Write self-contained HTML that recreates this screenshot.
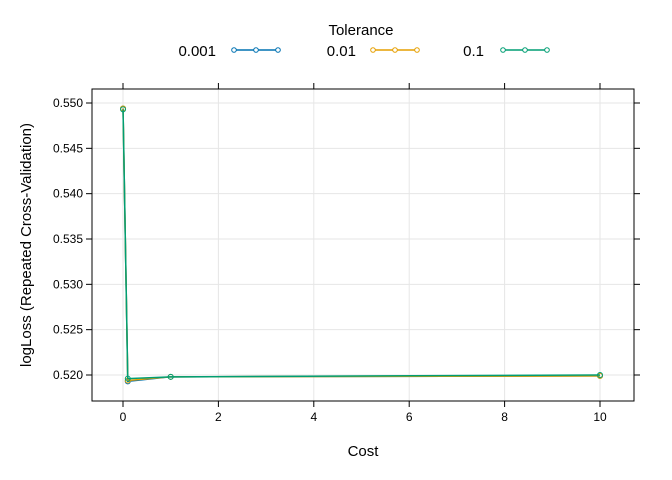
<!DOCTYPE html>
<html><head><meta charset="utf-8"><style>body{margin:0;background:#fff}svg{display:block;font-family:"Liberation Sans",sans-serif}</style></head>
<body>
<svg id="c" width="672" height="480" viewBox="0 0 672 480"></svg>
<script>
const xTicks=[0,2,4,6,8,10];
const yTicks=[0.520,0.525,0.530,0.535,0.540,0.545,0.550];
const costs=[0.001,0.1,1,10];
const seriesNames=["0.001","0.01","0.1"];
const lossTol001=[0.5494,0.5193,0.5198,0.5199];
const lossTol01=[0.5494,0.5194,0.5198,0.5199];
const lossTol1=[0.5493,0.5196,0.5198,0.5200];
const colors=["#0072B2","#E69F00","#009E73"];
const L=92,R=634,T=89,B=401;
const X=v=>123+(v-0)*(600-123)/10;
const Y=v=>375-(v-0.520)*(375-103)/0.030;
const svg=document.getElementById('c');const NS="http://www.w3.org/2000/svg";
function mk(t,a,p){const e=document.createElementNS(NS,t);for(const k in a)e.setAttribute(k,a[k]);(p||svg).appendChild(e);return e;}
const grid=mk('g',{});
xTicks.forEach(v=>mk('line',{x1:X(v),x2:X(v),y1:T,y2:B,stroke:'#e6e6e6'},grid));
yTicks.forEach(v=>mk('line',{x1:L,x2:R,y1:Y(v),y2:Y(v),stroke:'#e6e6e6'},grid));
const frame=mk('rect',{x:L,y:T,width:R-L,height:B-T,fill:'none',stroke:'#000'});

const xa=mk('g',{});
xTicks.forEach(v=>{mk('line',{x1:X(v),x2:X(v),y1:B,y2:B+6,stroke:'#000'},xa);mk('line',{x1:X(v),x2:X(v),y1:T,y2:T-6,stroke:'#000'},xa);
 const t=mk('text',{x:X(v),y:B+20,'text-anchor':'middle','font-size':12},xa);t.textContent=v;});
const ya=mk('g',{});
yTicks.forEach(v=>{mk('line',{x1:L,x2:L-6,y1:Y(v),y2:Y(v),stroke:'#000'},ya);mk('line',{x1:R,x2:R+6,y1:Y(v),y2:Y(v),stroke:'#000'},ya);
 const t=mk('text',{x:L-9,y:Y(v)+4,'text-anchor':'end','font-size':12},ya);t.textContent=v.toFixed(3);});
const xt=mk('text',{x:363,y:456,'text-anchor':'middle','font-size':15});xt.textContent='Cost';

const yt=mk('text',{x:0,y:0,transform:'translate(31,245) rotate(-90)','text-anchor':'middle','font-size':15});yt.textContent='logLoss (Repeated Cross-Validation)';

[lossTol001,lossTol01,lossTol1].forEach((s,i)=>{
 const g=mk('g',{});
 mk('polyline',{points:s.map((v,j)=>X(costs[j])+','+Y(v)).join(' '),fill:'none',stroke:colors[i],'stroke-width':1.5},g);
 s.forEach((v,j)=>{const c=mk('circle',{cx:X(costs[j]),cy:Y(v),r:2.5,fill:'none',stroke:colors[i]},g);
  });
});
const lg=mk('g',{});
const lt=mk('text',{x:361,y:35,'text-anchor':'middle','font-size':15},lg);lt.textContent='Tolerance';
const lx=[[216,232],[356,371],[484,501]];
seriesNames.forEach((n,i)=>{
 const e=mk('g',{},lg);
 const t=mk('text',{x:lx[i][0],y:56,'text-anchor':'end','font-size':15},e);t.textContent=n;
 const x0=lx[i][1];mk('line',{x1:x0+2,x2:x0+46,y1:50,y2:50,stroke:colors[i],'stroke-width':1.5},e);
 [0,22,44].forEach(d=>mk('circle',{cx:x0+2+d,cy:50,r:2.3,fill:'#fff',stroke:colors[i]},e));
});
</script>
</body></html>
